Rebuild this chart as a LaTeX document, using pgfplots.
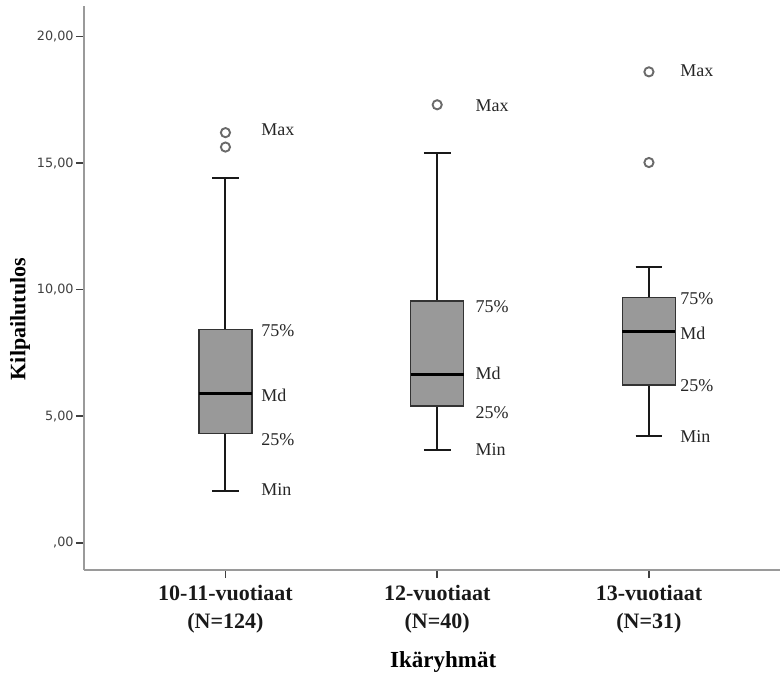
\documentclass[border=0pt]{standalone}
\usepackage{fontspec}
\setmainfont{Liberation Serif}
\newfontfamily\tickfont{DejaVu Sans}
\usepackage{pgfplots}
\pgfplotsset{compat=1.18}
\usepgfplotslibrary{statistics}
\definecolor{boxgray}{HTML}{999999}
\definecolor{axgray}{HTML}{9A9A9A}
\definecolor{outl}{HTML}{6A6A6A}
\begin{document}
\begin{tikzpicture}
\begin{axis}[
  scale only axis, width=348pt, height=282pt,
  xmin=0.332, xmax=3.619, ymin=-1.07, ymax=21.2,
  axis x line=bottom, axis y line=left,
  axis line style={-, draw=axgray, line width=0.8pt},
  xtick={1,2,3},
  xticklabels={{10-11-vuotiaat\\(N=124)},{12-vuotiaat\\(N=40)},{13-vuotiaat\\(N=31)}},
  ytick={0,5,10,15,20},
  yticklabels={{,00},{5,00},{10,00},{15,00},{20,00}},
  tick align=outside, major tick length=4pt,
  tick style={draw=black!75, line width=0.8pt},
  yticklabel style={font=\tickfont\fontsize{6.4}{7}\selectfont, text=black!75, inner sep=1pt},
  xticklabel style={font=\bfseries\fontsize{11}{14}\selectfont, align=center, text=black!90},
  xlabel={Ikäryhmät},
  xlabel style={font=\bfseries\fontsize{11.5}{14}\selectfont, at={(axis description cs:0.516,-0.163)}, anchor=center},
  ylabel={Kilpailutulos},
  ylabel style={font=\bfseries\fontsize{11}{14}\selectfont, at={(axis description cs:-0.092,0.445)}, anchor=center},
  clip=false,
  boxplot/draw direction=y,
  boxplot/box extend=0.25,
  boxplot/whisker extend=0.126,
  boxplot/every median/.style={line width=1.6pt, draw=black},
  boxplot/every whisker/.style={line width=0.95pt, draw=black!90},
  boxplot/every box/.style={line width=0.7pt, draw=black!80, fill=boxgray},
]
\addplot[draw=black!85, fill=boxgray, line width=0.75pt, mark=o, mark size=2.3pt,
  mark options={draw=outl, fill=white, line width=0.95pt},
  boxplot prepared={draw position=1, lower whisker=2.06, lower quartile=4.33, median=5.9, upper quartile=8.43, upper whisker=14.41}]
  table[row sep=\\, y index=0] {data\\16.2\\15.63\\};
\addplot[draw=black!85, fill=boxgray, line width=0.75pt, mark=o, mark size=2.3pt,
  mark options={draw=outl, fill=white, line width=0.95pt},
  boxplot prepared={draw position=2, lower whisker=3.67, lower quartile=5.4, median=6.65, upper quartile=9.55, upper whisker=15.4}]
  table[row sep=\\, y index=0] {data\\17.3\\};
\addplot[draw=black!85, fill=boxgray, line width=0.75pt, mark=o, mark size=2.3pt,
  mark options={draw=outl, fill=white, line width=0.95pt},
  boxplot prepared={draw position=3, lower whisker=4.23, lower quartile=6.23, median=8.34, upper quartile=9.68, upper whisker=10.9}]
  table[row sep=\\, y index=0] {data\\18.6\\15.02\\};
\begin{scope}[every node/.style={anchor=west, font=\fontsize{9}{10}\selectfont, text=black!85, inner sep=0pt}]
\node at (axis cs:1.168,16.33) {Max};
\node at (axis cs:1.168,8.4) {75\%};
\node at (axis cs:1.168,5.84) {Md};
\node at (axis cs:1.168,4.06) {25\%};
\node at (axis cs:1.168,2.09) {Min};
\node at (axis cs:2.18,17.28) {Max};
\node at (axis cs:2.18,9.31) {75\%};
\node at (axis cs:2.18,6.7) {Md};
\node at (axis cs:2.18,5.13) {25\%};
\node at (axis cs:2.18,3.67) {Min};
\node at (axis cs:3.146,18.66) {Max};
\node at (axis cs:3.146,9.66) {75\%};
\node at (axis cs:3.146,8.28) {Md};
\node at (axis cs:3.146,6.23) {25\%};
\node at (axis cs:3.146,4.22) {Min};
\end{scope}
\end{axis}
\pgfresetboundingbox
\path[use as bounding box] (-42pt,-53.5pt) rectangle (348pt,285pt);
\end{tikzpicture}
\end{document}
